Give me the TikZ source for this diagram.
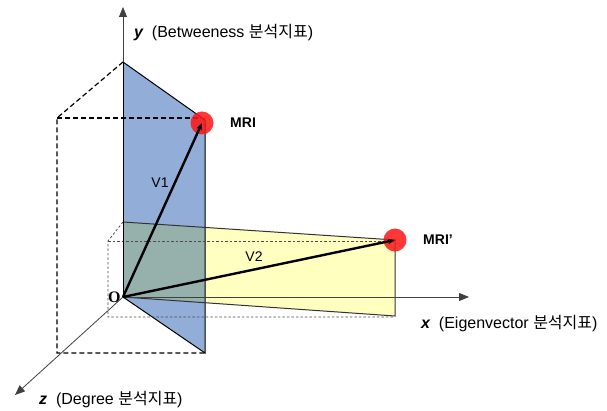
\documentclass[tikz,border=0pt]{standalone}
\usepackage{fontspec}
\setmainfont{Liberation Sans}
\newfontfamily\krfont{Noto Sans CJK KR}
\newfontfamily\serifbf{Liberation Serif}
\usetikzlibrary{positioning, arrows.meta}
\definecolor{planeblue}{RGB}{146,173,216}
\definecolor{planeyellow}{RGB}{255,255,192}
\definecolor{planeboth}{RGB}{150,176,172}

\begin{document}
\begin{tikzpicture}[
        x=1pt, y=-1pt,
        axis/.style={-{Triangle[length=10pt,width=8pt]}, line width=0.8pt, black!75},
        vec/.style={-{Stealth[length=7pt]}, line width=2.4pt},
        rim/.style={line width=1pt},
        guide/.style={dash pattern=on 5pt off 3pt, line width=1.2pt},
        frame/.style={dash pattern=on 2.5pt off 2pt, line width=0.8pt, black!70},
        point/.style={circle, fill=red!92!white, fill opacity=0.85, minimum size=23pt, inner sep=0pt},
        tag/.style={font=\bfseries\fontsize{14}{16}\selectfont},
        veclabel/.style={font=\fontsize{14}{16}\selectfont},
        axlabel/.style={font=\fontsize{16}{19}\selectfont, inner sep=0pt}
    ]
        \useasboundingbox (0,0) rectangle (607,411);

        % Corners
        \coordinate (O) at (123,297);
        \coordinate (bT) at (123,62);
        \coordinate (bR) at (205,120);
        \coordinate (bB) at (205,353);
        \coordinate (yT) at (123,222);
        \coordinate (yR) at (395,240);
        \coordinate (yB) at (395,316);
        \coordinate (gA) at (57,118);
        \coordinate (gB) at (57,353);
        \coordinate (fA) at (108,241);
        \coordinate (fB) at (108,317);
        \coordinate (fC) at (395,317);

        % Planes
        \fill[planeblue] (bT) -- (bR) -- (bB) -- (O) -- cycle;
        \fill[planeyellow] (yT) -- (yR) -- (yB) -- (O) -- cycle;
        \begin{scope}
            \clip (bT) -- (bR) -- (bB) -- (O) -- cycle;
            \fill[planeboth] (yT) -- (yR) -- (yB) -- (O) -- cycle;
        \end{scope}
        \draw[rim] (bT) -- (bR) -- (bB) -- (O);
        \draw[rim, black!80] (yT) -- (yR) -- (yB) -- (O);

        % Dashed guides
        \draw[guide] (bT) -- (gA) -- (gB) -- (bB);
        \draw[guide] (gA) -- (200,118);
        \draw[frame] (yT) -- (fA) -- (fB) -- (fC);
        \draw[frame] (fA) -- (yR |- fA);

        % Axes
        \coordinate (yTip) at (123,7);
        \coordinate (xTip) at (469,297);
        \coordinate (zTip) at (15,395);
        \draw[axis] (bT) -- (yTip);
        \draw[black] (O) -- (bT);
        \draw[axis] (O) -- (xTip);
        \draw[axis] (O) -- (zTip);
        \node[font=\serifbf\bfseries\fontsize{16}{19}\selectfont, left=-1pt of O] (oLbl) {O};

        % Vectors
        \node[point] (mri) at (202,123) {};
        \node[point] (mri2) at (395,240) {};
        \draw[vec] (O) -- (mri.center);
        \draw[vec] (O) -- (mri2.center);
        \node[veclabel] (v1) at (160,183) {V1};
        \node[veclabel] (v2) at (254,257) {V2};
        \node[tag, right=13pt of mri] (mriLbl) {MRI};
        \node[tag, right=13pt of mri2] (mri2Lbl) {MRI’};

        % Axis labels
        \node[axlabel, anchor=west] (yLbl) at (134,33) {{\bfseries\itshape y}~~(Betweeness {\krfont 분석지표})};
        \node[axlabel, anchor=west] (xLbl) at (421,324) {{\bfseries\itshape x}~~(Eigenvector {\krfont 분석지표})};
        \node[axlabel, anchor=west] (zLbl) at (39,400) {{\bfseries\itshape z}~~(Degree {\krfont 분석지표})};
    \end{tikzpicture}
\end{document}
